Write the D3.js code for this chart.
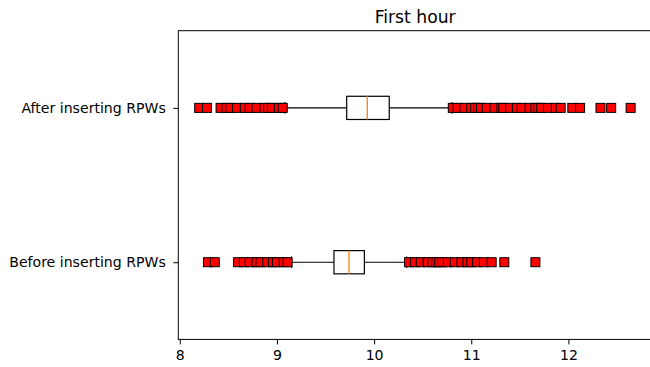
<!DOCTYPE html>
<html>
<head>
<meta charset="utf-8">
<script src="https://cdn.jsdelivr.net/npm/d3@7"></script>
<style>
  body { margin: 0; background: #fff; }
  text { font-family: "DejaVu Sans", sans-serif; fill: #000; }
</style>
</head>
<body>
<div id="chart"></div>
<script>
// categories, bottom to top
var categories = ["Before inserting RPWs", "After inserting RPWs"];

// box stats: [whisker low, q1, median, q3, whisker high]
var beforeStats = [9.15, 9.587, 9.742, 9.90, 10.335];
var afterStats = [9.083, 9.718, 9.93, 10.156, 10.80];

// outliers
var beforeFliers = [8.29, 8.36, 8.60, 8.66, 8.72, 8.79, 8.83, 8.90, 8.96, 9.00, 9.07, 9.11,
    10.36, 10.42, 10.48, 10.55, 10.60, 10.64, 10.67, 10.70, 10.76, 10.83, 10.90, 10.96, 11.00,
    11.06, 11.13, 11.21, 11.34, 11.66];
var afterFliers = [8.20, 8.28, 8.42, 8.48, 8.52, 8.59, 8.67, 8.72, 8.79, 8.87, 8.91, 8.95, 9.02, 9.06,
    10.81, 10.86, 10.93, 11.00, 11.04, 11.07, 11.10, 11.16, 11.24, 11.31, 11.33, 11.40, 11.47,
    11.52, 11.60, 11.66, 11.69, 11.72, 11.79, 11.87, 11.92, 12.04, 12.12, 12.33, 12.44, 12.64];

var xTicks = [8, 9, 10, 11, 12];
var title = "First hour";

var attrs = {
    width: 650,
    height: 367,
    left: 178.3,
    right: 652,
    top: 30.7,
    bottom: 339.4,
    boxHalf: 11.6,
    capHalf: 5.8,
    markerSize: 9,
    medianColor: "#ff7f0e",
    flierColor: "#ff0000",
    tickFont: "14.1px",
    titleFont: "17.2px"
};

var series = [
    { name: categories[0], stats: beforeStats, fliers: beforeFliers, pos: 1 },
    { name: categories[1], stats: afterStats, fliers: afterFliers, pos: 2 }
];

var x = d3.scaleLinear().domain([7.985, 12.86]).range([attrs.left, attrs.right]);
var y = d3.scaleLinear().domain([0.5, 2.5]).range([attrs.bottom, attrs.top]);

var svg = d3.select("#chart").append("svg")
    .attr("width", attrs.width)
    .attr("height", attrs.height);

var g = svg.append("g");

series.forEach(function(s){
    var cy = y(s.pos);
    var st = s.stats;
    var bg = g.append("g").attr("stroke", "#000").attr("stroke-width", 1.2).attr("fill", "none");
    // whiskers
    bg.append("line").attr("x1", x(st[0])).attr("x2", x(st[1])).attr("y1", cy).attr("y2", cy);
    bg.append("line").attr("x1", x(st[3])).attr("x2", x(st[4])).attr("y1", cy).attr("y2", cy);
    // caps
    [st[0], st[4]].forEach(function(v){
        bg.append("line").attr("x1", x(v)).attr("x2", x(v))
            .attr("y1", cy - attrs.capHalf).attr("y2", cy + attrs.capHalf);
    });
    // box
    bg.append("rect")
        .attr("x", x(st[1])).attr("y", cy - attrs.boxHalf)
        .attr("width", x(st[3]) - x(st[1])).attr("height", attrs.boxHalf * 2);
    // median
    g.append("line")
        .attr("x1", x(st[2])).attr("x2", x(st[2]))
        .attr("y1", cy - attrs.boxHalf).attr("y2", cy + attrs.boxHalf)
        .attr("stroke", attrs.medianColor).attr("stroke-width", 1.3);
    // fliers
    g.append("g").selectAll("rect").data(s.fliers).enter()
        .append("rect")
        .attr("x", function(d){ return x(d) - attrs.markerSize / 2; })
        .attr("y", cy - attrs.markerSize / 2)
        .attr("width", attrs.markerSize)
        .attr("height", attrs.markerSize)
        .attr("fill", attrs.flierColor)
        .attr("stroke", "#000")
        .attr("stroke-width", 1);
});

// frame
svg.append("rect")
    .attr("x", attrs.left).attr("y", attrs.top)
    .attr("width", attrs.right - attrs.left).attr("height", attrs.bottom - attrs.top)
    .attr("fill", "none").attr("stroke", "#000").attr("stroke-width", 1);

// x axis
var xAxis = d3.axisBottom(x).tickValues(xTicks).tickSize(5).tickPadding(6).tickFormat(d3.format("d"));
var xg = svg.append("g").attr("transform", "translate(0," + attrs.bottom + ")").call(xAxis);
xg.select(".domain").remove();
xg.selectAll("text").style("font-size", attrs.tickFont).style("font-family", "DejaVu Sans");

// y axis
var yAxis = d3.axisLeft(y).tickValues([1, 2]).tickSize(5).tickPadding(7.5)
    .tickFormat(function(d){ return categories[d - 1]; });
var yg = svg.append("g").attr("transform", "translate(" + attrs.left + ",0)").call(yAxis);
yg.select(".domain").remove();
yg.selectAll("text").style("font-size", attrs.tickFont).style("font-family", "DejaVu Sans");

// title
svg.append("text")
    .attr("x", (attrs.left + attrs.right) / 2)
    .attr("y", 23)
    .attr("text-anchor", "middle")
    .style("font-size", attrs.titleFont)
    .text(title);
</script>
</body>
</html>
